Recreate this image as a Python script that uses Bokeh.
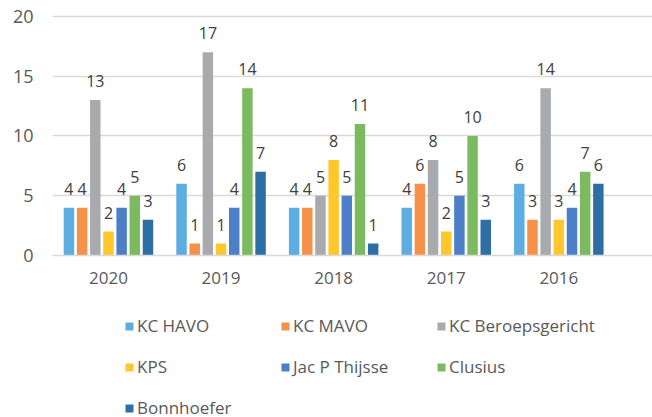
from bokeh.plotting import figure
from bokeh.layouts import column
from bokeh.models import ColumnDataSource, Range1d, Legend, LegendItem, FixedTicker
from bokeh.transform import dodge
from bokeh.core.properties import value
from bokeh.embed import file_html
from bokeh.resources import INLINE

years = ["2020", "2019", "2018", "2017", "2016"]
series = ["KC HAVO", "KC MAVO", "KC Beroepsgericht", "KPS", "Jac P Thijsse", "Clusius", "Bonnhoefer"]
kc_havo = [4, 6, 4, 4, 6]
kc_mavo = [4, 1, 4, 6, 3]
kc_beroeps = [13, 17, 5, 8, 14]
kps = [2, 1, 8, 2, 3]
jac_p_thijsse = [4, 4, 5, 5, 4]
clusius = [5, 14, 11, 10, 7]
bonnhoefer = [3, 7, 1, 3, 6]
y_ticks = [0, 5, 10, 15, 20]

values = [kc_havo, kc_mavo, kc_beroeps, kps, jac_p_thijsse, clusius, bonnhoefer]
colors = ["#5DADE2", "#F59149", "#A8AAAD", "#FFC72C", "#4C7FC7", "#7BBA5E", "#2D6FA4"]

FONT = "Open Sans"

p = figure(width=652, height=295, output_backend="svg", toolbar_location=None,
           x_range=Range1d(-0.497, 4.832), y_range=Range1d(0, 21),
           min_border_left=52, min_border_right=0, min_border_top=4,
           min_border_bottom=40)
p.outline_line_color = None
p.background_fill_color = "white"
p.border_fill_color = "white"

# legend panel (separate figure below the chart)
lg = figure(width=652, height=122, output_backend="svg", toolbar_location=None,
            x_range=Range1d(0, 1), y_range=Range1d(100, 101),
            x_axis_location=None, y_axis_location=None,
            min_border_left=52, min_border_right=0, min_border_top=14,
            min_border_bottom=0)
lg.outline_line_color = None
lg.grid.grid_line_color = None

pitch = 0.117
bw = 0.093
items = []
for j, (name, vals, col) in enumerate(zip(series, values, colors)):
    src = ColumnDataSource(dict(x=list(range(len(years))), y=vals, lab=[str(v) for v in vals]))
    off = (j - 3) * pitch
    p.vbar(x=dodge("x", off), top="y", width=bw, bottom=0, source=src,
           fill_color=col, line_color=None)
    p.text(x=dodge("x", off), y="y", text="lab", source=src,
           text_align="center", text_baseline="alphabetic", y_offset=-19,
           text_font=value(FONT), text_font_size="16px", text_color="#404040")
    r = lg.vbar(x=dodge("x", off), top="y", width=bw, bottom=0, source=src,
                fill_color=col, line_color=None, visible=False)
    items.append(LegendItem(label=name, renderers=[r]))

p.xaxis.ticker = FixedTicker(ticks=list(range(len(years))))
p.xaxis.major_label_overrides = {i: y for i, y in enumerate(years)}
p.xaxis.axis_line_color = "#D9D9D9"
p.xaxis.axis_line_width = 1.5
p.xaxis.major_tick_line_color = None
p.xaxis.minor_tick_line_color = None
p.xaxis.major_tick_out = 0
p.xaxis.major_tick_in = 0
p.xaxis.major_label_standoff = 16
p.xaxis.major_label_text_font = FONT
p.xaxis.major_label_text_font_size = "17px"
p.xaxis.major_label_text_color = "#595959"

p.yaxis.ticker = FixedTicker(ticks=y_ticks)
p.yaxis.axis_line_color = None
p.yaxis.major_tick_line_color = None
p.yaxis.minor_tick_line_color = None
p.yaxis.major_tick_out = 0
p.yaxis.major_tick_in = 0
p.yaxis.major_label_standoff = 19
p.yaxis.major_label_text_font = FONT
p.yaxis.major_label_text_font_size = "18px"
p.yaxis.major_label_text_color = "#595959"

p.xgrid.grid_line_color = None
p.ygrid.grid_line_color = "#D9D9D9"
p.ygrid.grid_line_width = 1.5

legend = Legend(items=items, ncols=3, orientation="horizontal",
                label_text_font=FONT, label_text_font_size="17px",
                label_text_color="#595959", glyph_width=10, glyph_height=10,
                label_width=135, label_standoff=3, spacing=8, label_height=33,
                border_line_color=None, background_fill_alpha=0,
                padding=0, margin=0, location=(72, -7))
lg.add_layout(legend, "center")

open("out.html", "w").write(file_html(column(p, lg), INLINE))
